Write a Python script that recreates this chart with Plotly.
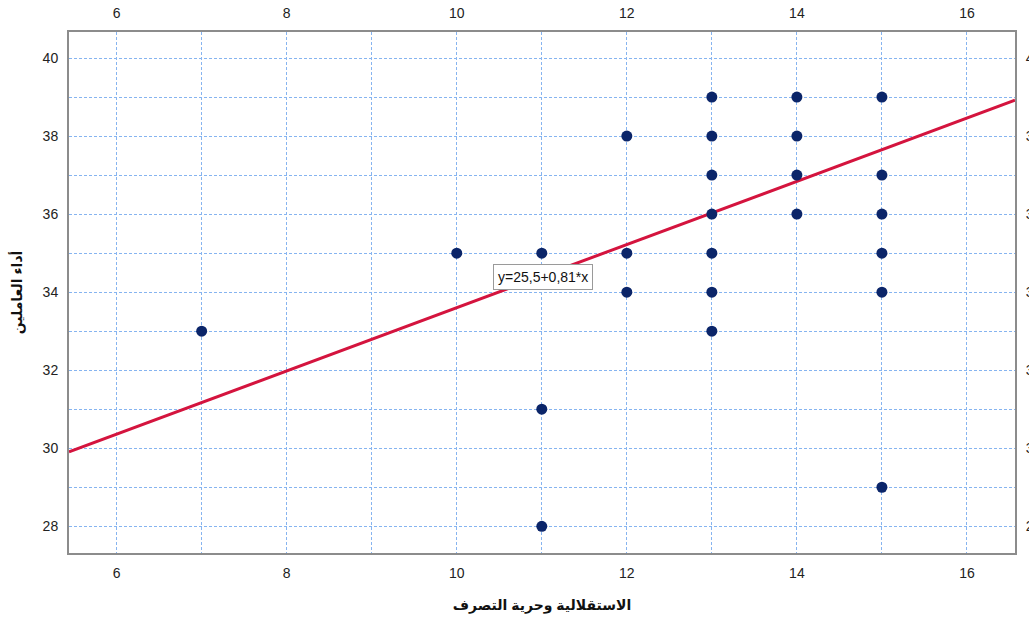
import plotly.graph_objects as go

# data
x_vals = [7, 10, 11, 11, 11, 12, 12, 12,
          13, 13, 13, 13, 13, 13, 13,
          14, 14, 14, 14,
          15, 15, 15, 15, 15, 15]
y_vals = [33, 35, 35, 31, 28, 38, 35, 34,
          39, 38, 37, 36, 35, 34, 33,
          39, 38, 37, 36,
          39, 37, 36, 35, 34, 29]
intercept = 25.5
slope = 0.81
fit_label = "y=25,5+0,81*x"
x_range = [5.44, 16.565]
y_range = [27.315, 40.667]
x_ticks = [6, 8, 10, 12, 14, 16]
y_ticks = [28, 30, 32, 34, 36, 38, 40]
x_title = "الاستقلالية وحرية التصرف"
y_title = "أداء العاملين"

font_fam = "Liberation Sans, Arial, DejaVu Sans, sans-serif"
grid_col = "#86b4f0"

fig = go.Figure()
fig.add_trace(go.Scatter(
    x=x_range, y=[intercept + slope * v for v in x_range],
    mode="lines", line=dict(color="#d4143e", width=3),
    hoverinfo="skip", showlegend=False))
fig.add_trace(go.Scatter(
    x=x_vals, y=y_vals, mode="markers",
    marker=dict(color="#0b2569", size=11),
    showlegend=False))
# invisible trace for secondary axes
fig.add_trace(go.Scatter(x=x_range, y=y_range, xaxis="x2", yaxis="y2",
                         mode="markers", marker=dict(opacity=0),
                         hoverinfo="skip", showlegend=False))

common_axis = dict(
    showline=True, linecolor="#8c8c8c", linewidth=2,
    zeroline=False, ticks="", ticklabelstandoff=6, automargin=False,
    tickfont=dict(family=font_fam, size=14, color="#222"),
)
grid = dict(showgrid=True, gridcolor=grid_col, griddash="3px,2px", gridwidth=1,
            minor=dict(dtick=1, tick0=0, showgrid=True, gridcolor=grid_col,
                       griddash="3px,2px", gridwidth=1))

fig.update_layout(
    width=1029, height=621,
    margin=dict(l=69, r=14, t=32, b=68),
    paper_bgcolor="white", plot_bgcolor="white",
    font=dict(family=font_fam),
    xaxis=dict(range=x_range, tickvals=x_ticks,
               title=dict(text=x_title, standoff=20,
                          font=dict(family=font_fam, size=14, color="#111", weight="bold")),
               **grid, **common_axis),
    yaxis=dict(range=y_range, tickvals=y_ticks,
               title=dict(text=y_title, standoff=17,
                          font=dict(family=font_fam, size=14, color="#111", weight="bold")),
               **grid, **common_axis),
    xaxis2=dict(range=x_range, tickvals=x_ticks, overlaying="x", side="top",
                showgrid=False, **common_axis),
    yaxis2=dict(range=y_range, tickvals=y_ticks, overlaying="y", side="right",
                showgrid=False, **common_axis),
    annotations=[dict(
        x=11.02, y=34.38, xref="x", yref="y", text=fit_label, showarrow=False,
        font=dict(family=font_fam, size=14, color="#111"),
        bgcolor="white", bordercolor="#9a9a9a", borderwidth=1, borderpad=4)],
)

fig.write_html("out.html")
